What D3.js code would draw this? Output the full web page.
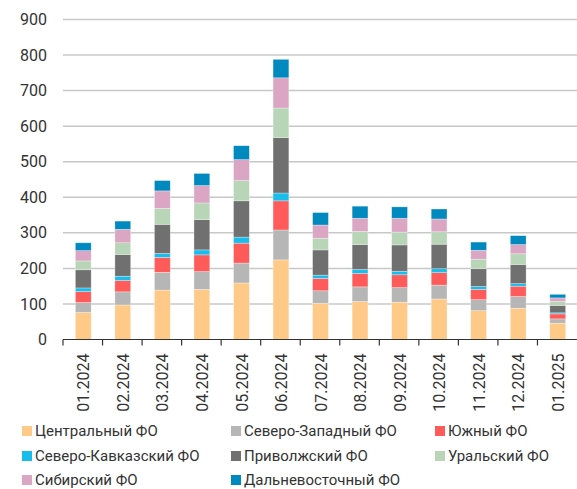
<!DOCTYPE html>
<html>
<head>
<meta charset="utf-8">
<script src="https://cdn.jsdelivr.net/npm/d3@7"></script>
<style>
  body { margin: 0; background: #fff; }
  text { font-family: Roboto, "Noto Sans", sans-serif; fill: #333; }
</style>
</head>
<body>
<div class="chart"></div>
<script>
// months and districts
var months = ["01.2024", "02.2024", "03.2024", "04.2024", "05.2024", "06.2024", "07.2024",
              "08.2024", "09.2024", "10.2024", "11.2024", "12.2024", "01.2025"];
var districts = ["Центральный ФО", "Северо-Западный ФО", "Южный ФО", "Северо-Кавказский ФО",
                 "Приволжский ФО", "Уральский ФО", "Сибирский ФО", "Дальневосточный ФО"];
var colors = ["#ffc987", "#b6b6b6", "#ff5b5b", "#19bdec", "#707070", "#b8d5b8", "#dba6c4", "#0089bf"];

// values
var central   = [76, 97, 139, 141, 159, 224, 102, 107, 105, 114, 81, 88, 46];
var northWest = [28, 37, 50, 50, 56, 84, 35, 41, 41, 39, 31, 33, 12];
var south     = [31, 32, 42, 47, 56, 82, 35, 38, 36, 35, 29, 29, 14];
var northCauc = [10, 12, 11, 14, 17, 22, 9, 11, 10, 11, 8, 7, 3];
var volga     = [51, 61, 82, 85, 102, 156, 71, 70, 74, 69, 50, 54, 21];
var ural      = [25, 33, 45, 47, 57, 83, 33, 37, 36, 35, 27, 30, 11];
var siberia   = [29, 38, 49, 49, 59, 85, 37, 37, 39, 36, 25, 26, 10];
var farEast   = [22, 23, 29, 34, 39, 52, 35, 34, 32, 28, 23, 25, 10];
var yTicks = [0, 100, 200, 300, 400, 500, 600, 700, 800, 900];

var series = [central, northWest, south, northCauc, volga, ural, siberia, farEast];

var width = 577, height = 489;
var margin = { top: 19.5, right: 0, bottom: 149.5, left: 63 };
var innerW = width - margin.left - margin.right;
var innerH = height - margin.top - margin.bottom;

var svg = d3.select(".chart").append("svg")
    .attr("width", width)
    .attr("height", height);

var g = svg.append("g")
    .attr("transform", "translate(" + margin.left + "," + margin.top + ")");

// table for the stack
var table = months.map(function (m, i) {
    var row = { month: m };
    districts.forEach(function (d, k) { row[d] = series[k][i]; });
    return row;
});
var stacked = d3.stack().keys(districts)(table);

var x = d3.scaleBand().domain(months).range([0, innerW]).paddingInner(0.6).paddingOuter(0.3);
var xb = d3.scaleBand().domain(months).range([0, innerW]);
var y = d3.scaleLinear().domain([0, 900]).range([innerH, 0]);

// gridlines
g.selectAll(".grid")
    .data(yTicks.slice(1))
    .enter().append("line")
    .attr("class", "grid")
    .attr("x1", 0).attr("x2", innerW)
    .attr("y1", function (d) { return y(d); })
    .attr("y2", function (d) { return y(d); })
    .attr("stroke", "#c8c8c8")
    .attr("stroke-width", 1.5);

// y labels
g.selectAll(".ylab")
    .data(yTicks)
    .enter().append("text")
    .attr("class", "ylab")
    .attr("x", -16)
    .attr("y", function (d) { return y(d); })
    .attr("dy", "0.35em")
    .attr("text-anchor", "end")
    .style("font-size", "16px")
    .text(function (d) { return d; });

// bars
var layers = g.selectAll(".layer")
    .data(stacked)
    .enter().append("g")
    .attr("fill", function (d, i) { return colors[i]; });

layers.selectAll("rect")
    .data(function (d) { return d; })
    .enter().append("rect")
    .attr("x", function (d) { return x(d.data.month) + 0.5; })
    .attr("width", x.bandwidth())
    .attr("y", function (d) { return y(d[1]); })
    .attr("height", function (d) { return y(d[0]) - y(d[1]); })
    .attr("stroke", "#fff")
    .attr("stroke-opacity", 0.5)
    .attr("stroke-width", 0.6);

// x axis: line + ticks at band edges
var axis = g.append("g").attr("transform", "translate(0," + innerH + ")");
axis.append("line")
    .attr("x1", 0).attr("x2", innerW)
    .attr("stroke", "#333").attr("stroke-width", 1.2);
axis.selectAll(".tick")
    .data(months)
    .enter().append("line")
    .attr("x1", function (d) { return xb(d); })
    .attr("x2", function (d) { return xb(d); })
    .attr("y1", 0).attr("y2", 6)
    .attr("stroke", "#333").attr("stroke-width", 1.2);
axis.selectAll(".xlab")
    .data(months)
    .enter().append("text")
    .attr("transform", function (d) {
        return "translate(" + (xb(d) + xb.bandwidth() / 2 + 1) + ",14) rotate(-90)";
    })
    .attr("text-anchor", "end")
    .attr("dy", "0.35em")
    .style("font-size", "16px")
    .text(function (d) { return d; });

// legend
var colX = [22, 231, 435];
var rowY = [436, 461, 485];
var legend = svg.selectAll(".leg")
    .data(districts)
    .enter().append("g")
    .attr("transform", function (d, i) {
        return "translate(" + colX[i % 3] + "," + rowY[Math.floor(i / 3)] + ")";
    });
legend.append("rect")
    .attr("x", 0).attr("y", -10)
    .attr("width", 10).attr("height", 10)
    .attr("fill", function (d, i) { return colors[i]; });
legend.append("text")
    .attr("x", 13)
    .attr("y", 0)
    .style("font-size", "15px")
    .text(function (d) { return d; });
</script>
</body>
</html>
